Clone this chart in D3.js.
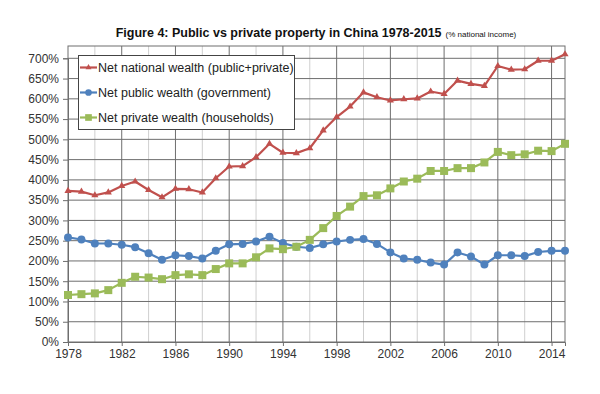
<!DOCTYPE html>
<html><head><meta charset="utf-8">
<script src="https://cdn.jsdelivr.net/npm/d3@7"></script>
<style>body{margin:0;background:#fff;} svg{display:block;}</style>
</head><body>
<svg id="chart" width="600" height="394"></svg>
<script>
const years = d3.range(1978, 2016);
const national = [373,371,362,369,385,396,375,357,378,377,369,404,433,434,456,489,467,466,478,522,555,581,616,604,596,599,601,618,612,645,637,632,681,672,673,694,694,710];
const publicW = [258,253,243,243,240,234,219,203,214,212,206,225,241,242,248,260,244,235,232,241,248,252,254,242,221,206,203,196,191,221,211,191,214,214,212,222,225,225];
const privateW = [116,118,120,128,146,161,159,155,165,167,165,180,194,194,209,231,229,235,252,281,311,334,360,362,379,396,403,422,422,429,429,443,469,461,463,472,471,489];
const yTicks = [0,50,100,150,200,250,300,350,400,450,500,550,600,650,700];
const xLabels = [1978,1982,1986,1990,1994,1998,2002,2006,2010,2014];
const seriesNames = ["Net national wealth (public+private)","Net public wealth (government)","Net private wealth (households)"];
const colors = ["#C0504D","#4F81BD","#9BBB59"];
const symbols = [d3.symbolTriangle, d3.symbolCircle, d3.symbolSquare];
const symSizes = [22, 50, 64];

const svg = d3.select("#chart");
const pL = 68, pR = 565, pT = 46, pB = 342;
const x = d3.scaleLinear().domain([1978, 2015]).range([pL, pR]);
const y = d3.scaleLinear().domain([0, 700]).range([pB, 58.3]);
const font = "'Liberation Sans', Arial, sans-serif";

// title
const title = svg.append("text").attr("x", 316).attr("y", 37).attr("text-anchor","middle")
  .attr("font-family", font).attr("fill","#111");
title.append("tspan").attr("font-size", 12.5).attr("font-weight","bold").text("Figure 4: Public vs private property in China 1978-2015");
title.append("tspan").attr("font-size", 8).attr("dx", 4).text("(% national income)");

// grid
const g = svg.append("g");
const minorYears = d3.range(1980, 2015, 4);
g.selectAll(".vminor").data(minorYears).join("line")
  .attr("x1", d=>x(d)).attr("x2", d=>x(d)).attr("y1", pT).attr("y2", pB)
  .attr("stroke", "#cfcfcf").attr("stroke-width", 1);
g.selectAll(".vmajor").data(xLabels.slice(1)).join("line")
  .attr("x1", d=>x(d)).attr("x2", d=>x(d)).attr("y1", pT).attr("y2", pB)
  .attr("stroke", "#6e6e6e").attr("stroke-width", 1);
g.selectAll(".hgrid").data(yTicks.slice(1)).join("line")
  .attr("x1", pL).attr("x2", pR).attr("y1", d=>y(d)).attr("y2", d=>y(d))
  .attr("stroke", "#6e6e6e").attr("stroke-width", 1);
// frame
svg.append("rect").attr("x", pL).attr("y", pT).attr("width", pR-pL).attr("height", pB-pT)
  .attr("fill","none").attr("stroke","#6e6e6e").attr("stroke-width",1);

// axes
const yAxis = d3.axisLeft(y).tickValues(yTicks).tickFormat(d=>d+"%").tickSize(5).tickPadding(4);
const ya = svg.append("g").attr("transform",`translate(${pL},0)`).call(yAxis);
const xAxis = d3.axisBottom(x).tickValues(xLabels).tickFormat(d3.format("d")).tickSize(4).tickPadding(3);
const xa = svg.append("g").attr("transform",`translate(0,${pB})`).call(xAxis);
[ya, xa].forEach(a => {
  a.select(".domain").attr("stroke","#6e6e6e");
  a.selectAll(".tick line").attr("stroke","#6e6e6e");
  a.selectAll("text").attr("font-family", font).attr("font-size", 12).attr("fill","#333");
});

// series
const data = [national, publicW, privateW];
const line = d3.line().x((d,i)=>x(years[i])).y(d=>y(d));
data.forEach((vals, k) => {
  svg.append("path").datum(vals).attr("d", line).attr("fill","none")
    .attr("stroke", colors[k]).attr("stroke-width", 2.2).attr("stroke-linejoin","round");
  svg.append("g").selectAll("path").data(vals).join("path")
    .attr("transform", (d,i)=>`translate(${x(years[i])},${y(d)})`)
    .attr("d", d3.symbol().type(symbols[k]).size(symSizes[k]))
    .attr("fill", colors[k]);
});

// legend
const lg = svg.append("g");
lg.append("rect").attr("x", 78.5).attr("y", 55.5).attr("width", 216).attr("height", 74)
  .attr("fill","#fff").attr("stroke","#444").attr("stroke-width",1);
seriesNames.forEach((name, k) => {
  const cy = 67.5 + k*25;
  lg.append("line").attr("x1", 80).attr("x2", 97).attr("y1", cy).attr("y2", cy)
    .attr("stroke", colors[k]).attr("stroke-width", 2.2);
  lg.append("path").attr("transform",`translate(88.5,${cy})`)
    .attr("d", d3.symbol().type(symbols[k]).size(symSizes[k]*0.7)).attr("fill", colors[k]);
  lg.append("text").attr("x", 98).attr("y", cy+4.3).attr("font-family", font)
    .attr("font-size", 12.5).attr("fill","#222").text(name);
});
</script>
</body></html>
